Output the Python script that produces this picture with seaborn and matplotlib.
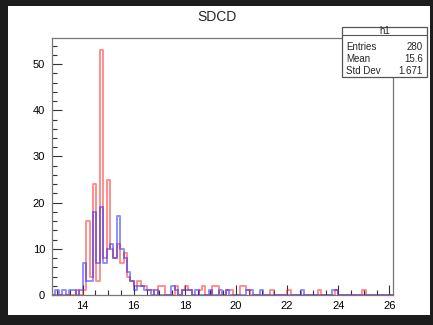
import numpy as np
import pandas as pd
import matplotlib
matplotlib.use("Agg")
import matplotlib.pyplot as plt
from matplotlib.patches import Rectangle
from matplotlib.lines import Line2D
from matplotlib.ticker import MultipleLocator
import seaborn as sns

# ---- data (100 bins between x_lo and x_hi) ----
x_lo, x_hi, n_bins = 12.8, 26.14, 100
title = "SDCD"
stats_name = "h1"
stats_labels = ["Entries", "Mean", "Std Dev"]
stats_values = ["280", "15.6", "1.671"]

red_bin = [7, 9, 10, 11, 12, 13, 14, 15, 16, 17, 18, 19, 20, 21, 22, 23, 24, 25, 26, 27,
           28, 29, 31, 32, 36, 38, 39, 40, 43, 44, 47, 48, 51, 52, 55, 56, 57, 64, 69, 78, 83, 91]
red_cnt = [1, 1, 16, 4, 24, 3, 53, 8, 25, 10, 8, 11, 7, 9, 4, 3, 2, 3, 2, 2,
           1, 1, 2, 2, 2, 1, 2, 1, 1, 2, 2, 2, 1, 1, 2, 2, 1, 1, 1, 1, 1, 1]

blue_bin = [1, 3, 5, 6, 8, 9, 10, 11, 12, 13, 14, 15, 16, 17, 18, 19, 20, 21, 22, 23,
            24, 25, 26, 27, 28, 30, 35, 36, 38, 39, 40, 42, 46, 49, 51, 57, 58, 61, 73, 82, 83]
blue_cnt = [1, 1, 1, 1, 1, 7, 3, 3, 18, 7, 19, 7, 10, 11, 8, 17, 10, 8, 5, 3,
            1, 2, 2, 1, 1, 1, 2, 1, 1, 1, 1, 1, 1, 1, 1, 1, 1, 1, 1, 1, 1]

edges = [float(e) for e in np.linspace(x_lo, x_hi, n_bins + 1)]
width = edges[1] - edges[0]
red_df = pd.DataFrame({"x": x_lo + (np.array(red_bin) + 0.5) * width, "w": red_cnt})
blue_df = pd.DataFrame({"x": x_lo + (np.array(blue_bin) + 0.5) * width, "w": blue_cnt})

sns.set_theme(style="white")
plt.rcParams["font.family"] = ["Liberation Sans", "DejaVu Sans"]

W, H = 433, 325
fig = plt.figure(figsize=(W / 100, H / 100), dpi=100)
fig.patch.set_facecolor("#1c1c1c")
fig.add_artist(Rectangle((8 / W, 1 - 315 / H), 422 / W, 309 / H,
                         transform=fig.transFigure, facecolor="white",
                         edgecolor="none", zorder=-10))


def fx(px):
    return px / W


def fy(py):
    return 1 - py / H


ax = fig.add_axes([fx(52), fy(295), (393 - 52) / W, (295 - 38) / H])
ax.set_facecolor("white")
ax.set_zorder(1)

sns.histplot(data=red_df, x="x", weights="w", bins=edges, element="step", fill=False,
             color="#ff2020", alpha=0.5, linewidth=1.4, ax=ax)
sns.histplot(data=blue_df, x="x", weights="w", bins=edges, element="step", fill=False,
             color="#2020ff", alpha=0.5, linewidth=1.4, ax=ax)

ax.set_xlim(x_lo, x_hi)
ax.set_ylim(0, 55.65)
ax.set_xlabel("")
ax.set_ylabel("")
ax.xaxis.set_major_locator(MultipleLocator(2))
ax.xaxis.set_minor_locator(MultipleLocator(0.5))
ax.yaxis.set_major_locator(MultipleLocator(10))
ax.yaxis.set_minor_locator(MultipleLocator(2))
ax.tick_params(axis="both", which="both", direction="in", colors="#333333",
               labelcolor="black", labelsize=8)
ax.tick_params(axis="both", which="major", length=7, width=0.8)
ax.tick_params(axis="both", which="minor", length=3.5, width=0.8)
ax.tick_params(axis="x", pad=4, bottom=True, top=False)
ax.tick_params(axis="y", pad=5, left=True, right=False)
ax.tick_params(axis="x", which="minor", bottom=True)
ax.tick_params(axis="y", which="minor", left=True)
for s in ax.spines.values():
    s.set_color("#777777")
    s.set_linewidth(0.9)

fig.text(fx(217), fy(17), title, ha="center", va="center", fontsize=10)

# stats box
bx0, bx1, by0, by1 = 342, 427, 27, 77
fig.add_artist(Rectangle((fx(bx0), fy(by1)), (bx1 - bx0) / W, (by1 - by0) / H,
                         transform=fig.transFigure, facecolor="white",
                         edgecolor="#555555", linewidth=0.9, zorder=5))
fig.add_artist(Line2D([fx(bx0), fx(bx1)], [fy(35), fy(35)], transform=fig.transFigure,
                      color="#555555", linewidth=0.8, zorder=6))
fig.text(fx((bx0 + bx1) / 2), fy(31), stats_name, ha="center", va="center",
         fontsize=7, zorder=7)
for i, (lab, val) in enumerate(zip(stats_labels, stats_values)):
    yy = fy(46.5 + i * 12.5)
    fig.text(fx(bx0 + 4), yy, lab, ha="left", va="center", fontsize=7, zorder=7)
    fig.text(fx(bx1 - 4), yy, val, ha="right", va="center", fontsize=7, zorder=7)

fig.savefig("out.png", dpi=100, facecolor=fig.get_facecolor())
